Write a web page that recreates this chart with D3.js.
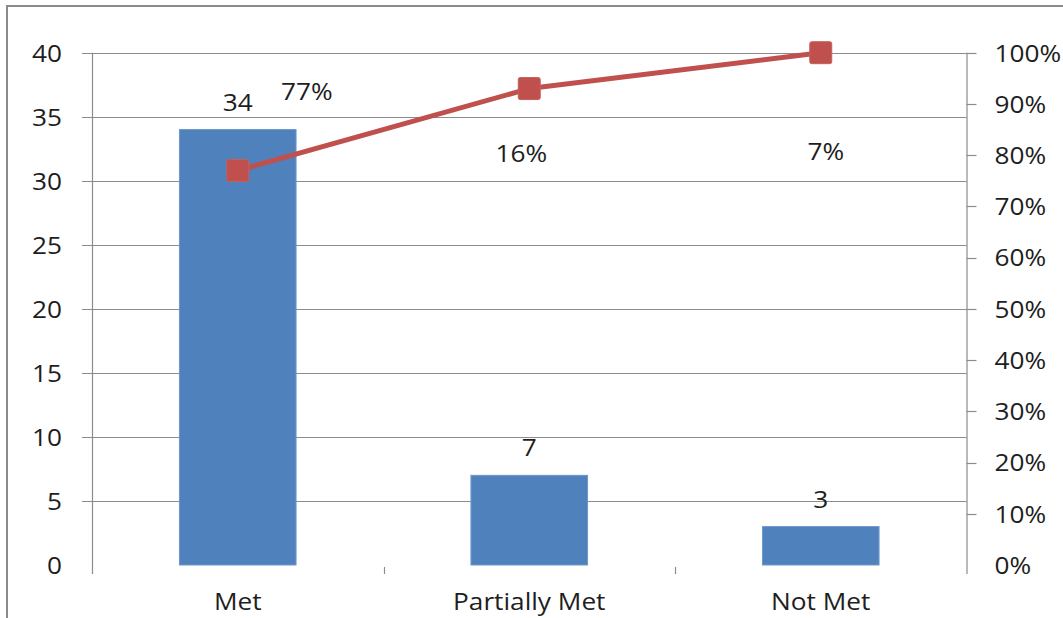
<!DOCTYPE html>
<html>
<head>
<meta charset="utf-8">
<script src="https://cdn.jsdelivr.net/npm/d3@7"></script>
<style>
  html, body { margin: 0; padding: 0; background: #fff; }
  svg { display: block; }
  text { font-family: "Open Sans", "Liberation Sans", sans-serif; fill: #1e1e1e; }
</style>
</head>
<body>
<svg id="chart" width="1063" height="618"></svg>
<script>
// ---- data ----
const categories = ["Met", "Partially Met", "Not Met"];
const counts = [34, 7, 3];
const cumulativePct = [0.77, 0.93, 1.00];
const shareLabels = ["77%", "16%", "7%"];
const leftTicks = [0, 5, 10, 15, 20, 25, 30, 35, 40];
const rightTicks = [0, 0.1, 0.2, 0.3, 0.4, 0.5, 0.6, 0.7, 0.8, 0.9, 1.0];

// label placement offsets (styling) relative to line markers
const shareLabelOffsets = [[69, -71], [-8, 73], [5, 107]];

// ---- layout ----
const svg = d3.select("#chart");
const plot = { left: 92, right: 966.5, top: 52.7, bottom: 565 };
const FONT = 23, SX = 1.14;

const x = d3.scaleBand().domain(categories).range([plot.left, plot.right]).padding(0);
const yL = d3.scaleLinear().domain([0, 40]).range([plot.bottom, plot.top]);
const yR = d3.scaleLinear().domain([0, 1]).range([plot.bottom, plot.top]);

function label(g, txt, px, py, anchor, baseline) {
  return g.append("text")
    .attr("transform", `translate(${px},${py}) scale(${SX},1)`)
    .attr("text-anchor", anchor)
    .attr("dominant-baseline", baseline || "auto")
    .style("font-size", FONT + "px")
    .text(txt);
}

// outer border
svg.append("rect")
  .attr("x", 7).attr("y", 6).attr("width", 1200).attr("height", 800)
  .attr("fill", "none").attr("stroke", "#8a8a8a").attr("stroke-width", 2);

const gridColor = "#8c8c8c";

// gridlines (left axis) with outward ticks
svg.append("g").selectAll("line").data(leftTicks).join("line")
  .attr("x1", plot.left - 10).attr("x2", plot.right)
  .attr("y1", d => Math.round(yL(d)) + 0.5).attr("y2", d => Math.round(yL(d)) + 0.5)
  .attr("stroke", gridColor).attr("stroke-width", 1.2)
  .attr("display", d => d === 0 ? "none" : null);

// left axis line
svg.append("line")
  .attr("x1", plot.left + 0.5).attr("x2", plot.left + 0.5)
  .attr("y1", plot.top).attr("y2", plot.bottom + 9)
  .attr("stroke", gridColor).attr("stroke-width", 1.2);

// right axis line + ticks
svg.append("line")
  .attr("x1", plot.right + 0.5).attr("x2", plot.right + 0.5)
  .attr("y1", plot.top).attr("y2", plot.bottom + 9)
  .attr("stroke", gridColor).attr("stroke-width", 1.2);
svg.append("g").selectAll("line").data(rightTicks.filter(d => d > 0)).join("line")
  .attr("x1", plot.right).attr("x2", plot.right + 10)
  .attr("y1", d => Math.round(yR(d)) + 0.5).attr("y2", d => Math.round(yR(d)) + 0.5)
  .attr("stroke", gridColor).attr("stroke-width", 1.2);

// category boundary ticks
svg.append("g").selectAll("line").data(categories.slice(1)).join("line")
  .attr("x1", d => Math.round(x(d)) + 0.5).attr("x2", d => Math.round(x(d)) + 0.5)
  .attr("y1", plot.bottom + 2).attr("y2", plot.bottom + 9)
  .attr("stroke", gridColor).attr("stroke-width", 1.2);

// left tick labels
const gl = svg.append("g");
leftTicks.forEach(t => label(gl, String(t), plot.left - 30, yL(t), "end", "central"));

// right tick labels
const gr = svg.append("g");
rightTicks.forEach(t => label(gr, d3.format(".0%")(t), plot.right + 28, yR(t), "start", "central"));

// category labels
const gc = svg.append("g");
categories.forEach(c => label(gc, c, x(c) + x.bandwidth() / 2, 610, "middle"));

// bars
const barW = x.bandwidth() * 0.4;
svg.append("g").selectAll("rect").data(categories).join("rect")
  .attr("x", c => x(c) + (x.bandwidth() - barW) / 2)
  .attr("width", barW)
  .attr("y", (c, i) => yL(counts[i]))
  .attr("height", (c, i) => yL(0) - yL(counts[i]))
  .attr("fill", "#4F81BD")
  .attr("stroke", "#6f97c9").attr("stroke-width", 1);

// bar value labels
const gv = svg.append("g");
categories.forEach((c, i) => label(gv, String(counts[i]), x(c) + x.bandwidth() / 2, yL(counts[i]) - 19, "middle"));

// cumulative line
const pts = categories.map((c, i) => [x(c) + x.bandwidth() / 2, yR(cumulativePct[i])]);
svg.append("path")
  .attr("d", d3.line()(pts))
  .attr("fill", "none").attr("stroke", "#C0504D").attr("stroke-width", 5)
  .attr("stroke-linejoin", "round");

// markers
const M = 22;
svg.append("g").selectAll("rect").data(pts).join("rect")
  .attr("x", d => d[0] - M / 2).attr("y", d => d[1] - M / 2)
  .attr("width", M).attr("height", M).attr("rx", 2)
  .attr("fill", "#C0504D").attr("stroke", "#c65f5c").attr("stroke-width", 1);

// share labels
const gs = svg.append("g");
pts.forEach((p, i) => label(gs, shareLabels[i], p[0] + shareLabelOffsets[i][0], p[1] + shareLabelOffsets[i][1], "middle"));
</script>
</body>
</html>
